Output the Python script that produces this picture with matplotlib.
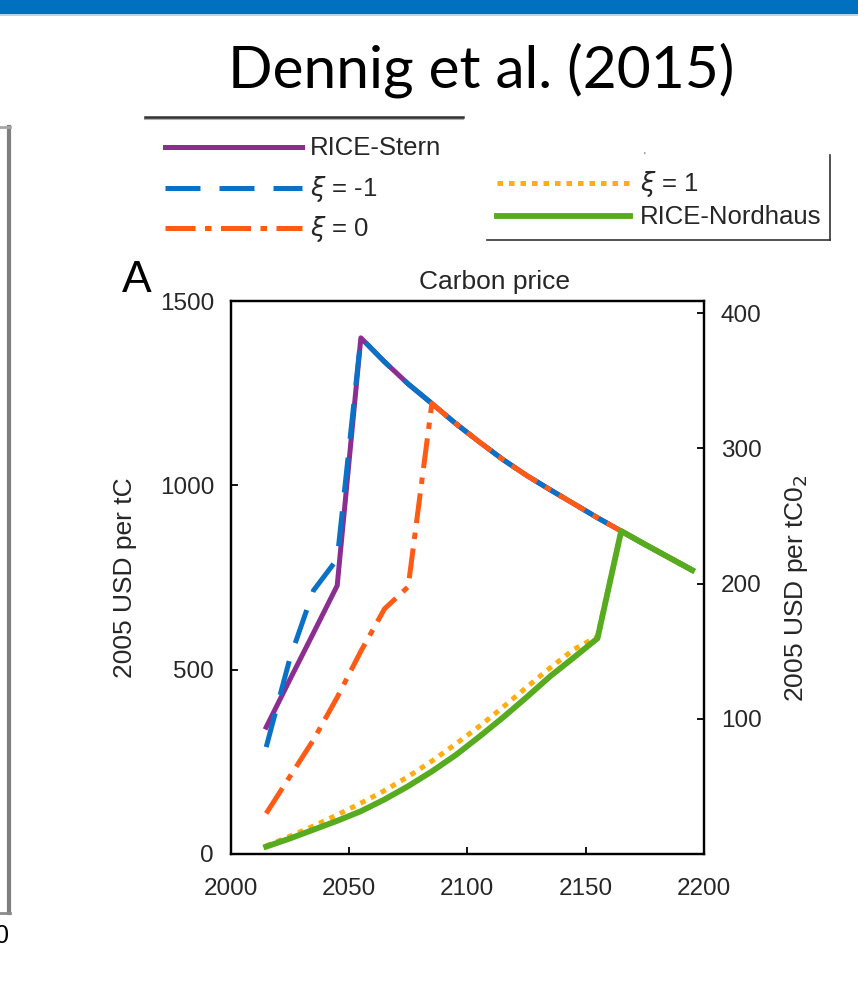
import matplotlib
matplotlib.use('Agg')
import matplotlib.pyplot as plt
from matplotlib.lines import Line2D
from matplotlib.patches import Rectangle

# ---------------- data ----------------
years = [2015, 2025, 2035, 2045, 2055, 2065, 2075, 2085, 2095, 2105,
         2115, 2125, 2135, 2145, 2155, 2165, 2175, 2185, 2195]
rice_stern = [344, 473, 600, 728, 1400, 1335, 1275, 1222, 1168, 1118,
              1070, 1027, 988, 950, 912, 876, 840, 805, 770]
xi_minus1 = [290, 530, 715, 800, 1400, 1335, 1275, 1222, 1168, 1118,
             1070, 1027, 988, 950, 912, 876, 840, 805, 770]
xi_0 = [110, 210, 310, 425, 550, 665, 725, 1222, 1168, 1118,
        1070, 1027, 988, 950, 912, 876, 840, 805, 770]
xi_1 = [22, 48, 76, 106, 138, 172, 210, 252, 298, 346,
        398, 452, 505, 555, 590, 876, 840, 805, 770]
rice_nordhaus = [20, 42, 66, 90, 116, 148, 184, 224, 268, 318,
                 370, 425, 482, 533, 585, 876, 840, 805, 770]

x_ticks = [2000, 2050, 2100, 2150, 2200]
y_ticks = [0, 500, 1000, 1500]
y2_ticks = [100, 200, 300, 400]
C_TO_CO2 = 44.0 / 12.0

series_labels = ['RICE-Stern', r'$\xi$ = -1', r'$\xi$ = 0', r'$\xi$ = 1', 'RICE-Nordhaus']

# ---------------- style ----------------
W, H = 858, 991
FONT = ['Liberation Sans', 'DejaVu Sans']
plt.rcParams['font.family'] = FONT
plt.rcParams['mathtext.fontset'] = 'dejavusans'

C_PURPLE = '#8C2D91'
C_BLUE = '#0A72C6'
C_ORANGE = '#FF5B14'
C_YELLOW = '#FFAE12'
C_GREEN = '#57AB1E'
LW = 3.6
styles = {
    'stern': dict(color=C_PURPLE, lw=LW, ls='-'),
    'm1': dict(color=C_BLUE, lw=LW, ls=(0, (7, 3.8))),
    'z': dict(color=C_ORANGE, lw=LW, ls=(0, (6, 1.9, 1.3, 1.9))),
    'p1': dict(color=C_YELLOW, lw=LW, ls=(0, (1.1, 1.2))),
    'nord': dict(color=C_GREEN, lw=LW + 0.6, ls='-'),
}
TXT = '#262626'


def fx(px):
    return px / W


def fy(py):
    return 1 - py / H


fig = plt.figure(figsize=(W / 100, H / 100), dpi=100)
fig.patch.set_facecolor('white')

# ---------------- slide decorations ----------------
fig.add_artist(Rectangle((0, fy(14)), 1, 14 / H, transform=fig.transFigure,
                         color='#0070C0', lw=0))
fig.add_artist(Rectangle((0, fy(16)), 1, 2 / H, transform=fig.transFigure,
                         color='#B7D3EE', lw=0))

title = fig.text(fx(481), fy(70), 'Dennig et al. (2015)', family=['Lato', 'DejaVu Sans'],
                 fontsize=43, ha='center', va='center', color='black')
# fit title width to reference
fig.canvas.draw()
bb = title.get_window_extent()
title.set_fontsize(43 * 507 / bb.width)

# left frame of neighbouring panel
fig.add_artist(Line2D([fx(9), fx(9)], [fy(127), fy(913)], color='#7f7f7f', lw=3))
fig.add_artist(Line2D([0, fx(10)], [fy(127), fy(127)], color='#a6a6a6', lw=2))
fig.add_artist(Line2D([0, fx(10)], [fy(913), fy(913)], color='#8c8c8c', lw=2))
fig.text(fx(9), fy(936), '0', fontsize=18, ha='right', va='center', color='black')

# line under title (top of legend box)
fig.add_artist(Line2D([fx(145), fx(463)], [fy(119), fy(119)], color='#b0b0b0', lw=1.5))
fig.add_artist(Line2D([fx(145), fx(463)], [fy(117), fy(117)], color='#333333', lw=1.8))

# second legend frame (right + bottom edges)
fig.add_artist(Line2D([fx(830), fx(830)], [fy(155), fy(240)], color='#333333', lw=1.2))
fig.add_artist(Line2D([fx(487), fx(830)], [fy(240), fy(240)], color='#333333', lw=1.2))
fig.text(fx(644), fy(157), "'", fontsize=7, ha='center', va='center', color='#444444')

# legend entries
LEG_FS = 18.5


def legend_entry(x0, x1, y, key, label, tx):
    fig.add_artist(Line2D([fx(x0), fx(x1)], [fy(y), fy(y)], **styles[key]))
    fig.text(fx(tx), fy(y + 1), label, fontsize=LEG_FS, ha='left', va='center', color=TXT)


legend_entry(165, 302, 147, 'stern', series_labels[0], 310)
legend_entry(165, 302, 188, 'm1', series_labels[1], 310)
legend_entry(165, 302, 228, 'z', series_labels[2], 310)
legend_entry(497, 630, 183, 'p1', series_labels[3], 640)
legend_entry(497, 630, 216, 'nord', series_labels[4], 640)

# ---------------- axes ----------------
ax_l, ax_r, ax_t, ax_b = 230.7, 704, 301, 854
ax = fig.add_axes([fx(ax_l), fy(ax_b), (ax_r - ax_l) / W, (ax_b - ax_t) / H])
ax.plot(years, rice_stern, **styles['stern'])
ax.plot(years, xi_minus1, **styles['m1'])
ax.plot(years, xi_0, **styles['z'])
ax.plot(years, xi_1, **styles['p1'])
ax.plot(years, rice_nordhaus, **styles['nord'])

ax.set_xlim(2000, 2200)
ax.set_ylim(0, 1500)
ax.set_xticks(x_ticks)
ax.set_yticks(y_ticks)
ax.tick_params(direction='in', length=5, width=1.3, labelsize=17.5, colors='black',
               labelcolor=TXT)
ax.tick_params(axis='x', pad=17)
ax.tick_params(axis='y', pad=12)
for s in ax.spines.values():
    s.set_linewidth(1.6)
    s.set_color('black')

ax2 = ax.twinx()
ax2.set_ylim(0, 1500 / C_TO_CO2)
ax2.set_yticks(y2_ticks)
ax2.tick_params(direction='in', length=5, width=1.3, labelsize=17.5, colors='black',
                labelcolor=TXT, pad=12)
for s in ax2.spines.values():
    s.set_linewidth(1.6)
    s.set_color('black')

fig.text(fx(494), fy(282), 'Carbon price', fontsize=19, ha='center', va='center', color=TXT)
fig.text(fx(137), fy(280), 'A', fontsize=32, ha='center', va='center', color='black')
fig.text(fx(125), fy(578), '2005 USD per tC', fontsize=19, rotation=90,
         ha='center', va='center', color=TXT)
fig.text(fx(797), fy(588), r'2005 USD per tC0$_2$', fontsize=19, rotation=90,
         ha='center', va='center', color=TXT)

fig.savefig('out.png', dpi=100, facecolor='white')
